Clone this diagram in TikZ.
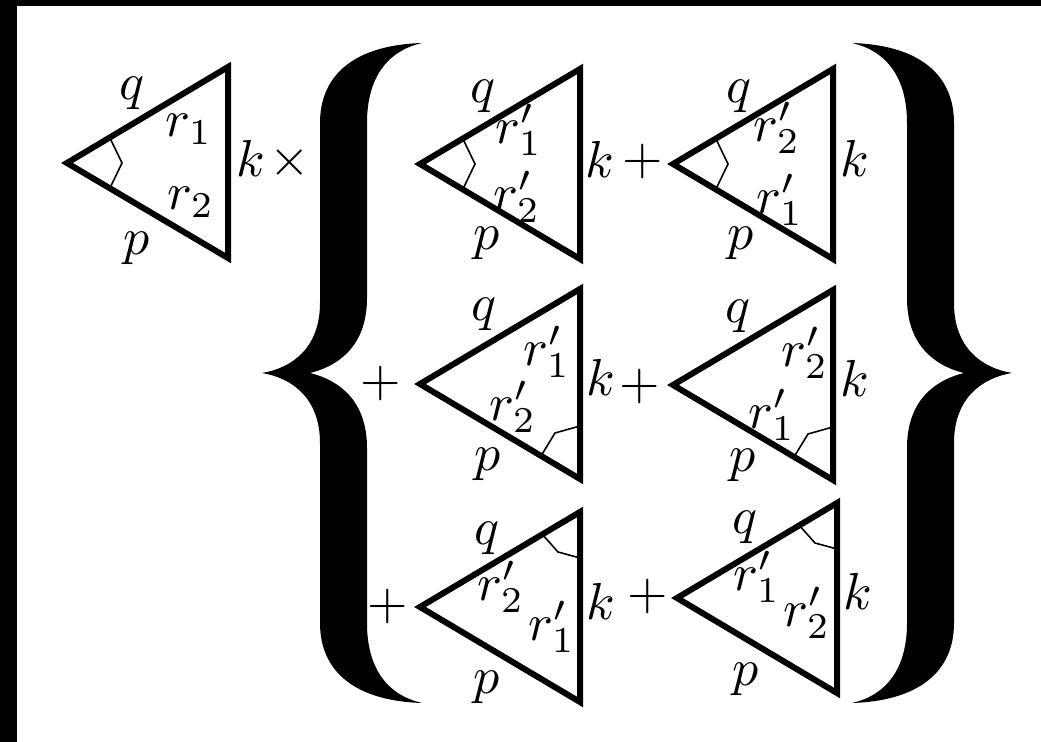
\documentclass[tikz,border=0pt]{standalone}
\newcommand\mytri[2]{\draw[tri] (#1,#2) -- ++(160,-95) -- ++(0,190) -- cycle;}
\newcommand\markL[2]{\draw[amark] (#1,#2) +(43,-25) -- +(55,0) -- +(43,25);}
\newcommand\markBR[2]{\draw[amark] (#1+160,#2+95) +(0,-53) -- +(-25,-46) -- +(-39,-23);}
\newcommand\markTR[2]{\draw[amark] (#1+160,#2-95) +(0,46) -- +(-22,40) -- +(-38,22);}
\newcommand\bracefill[1]{\fill[#1] (160,-330) .. controls (95,-328) and (58,-300) .. (58,-250) -- (58,-70) .. controls (58,-25) and (30,-5) .. (0,0) .. controls (30,5) and (58,25) .. (58,70) -- (58,250) .. controls (58,300) and (95,328) .. (160,330) .. controls (125,322) and (105,295) .. (105,250) -- (105,75) .. controls (105,30) and (80,8) .. (48,0) .. controls (80,-8) and (105,-30) .. (105,-75) -- (105,-250) .. controls (105,-295) and (125,-322) .. (160,-330) -- cycle;}
\begin{document}
\begin{tikzpicture}[x=0.5pt,y=-0.5pt,
  tri/.style={line width=3pt,line join=miter},
  amark/.style={line width=0.8pt},
  lbl/.style={inner sep=0pt,font=\fontsize{10}{12}\selectfont,scale=2.6,transform shape}]
\useasboundingbox (0,0) rectangle (1041,742);
\fill[white] (0,0) rectangle (1041,742);
\fill[black] (0,0) rectangle (1041,6);
\fill[black] (0,0) rectangle (17,742);

% braces
\bracefill{shift={(262,373)}}
\bracefill{shift={(1012,373)},xscale=-1}

% first triangle
\draw[tri] (67,163) -- (228,67) -- (228,258) -- cycle;
\markL{67}{163}
\node[lbl] (q0) at (132,93) {$q$};
\node[lbl] (ra0) at (189,129) {$r_1$};
\node[lbl] (rb0) at (191,202) {$r_2$};
\node[lbl] (p0) at (137,248) {$p$};
\node[lbl] (k0) at (251,158) {$k$};
\node[lbl] (x0) at (290,163) {$\times$};

% row 1
\mytri{420}{164}\markL{420}{164}
\node[lbl] (qA) at (483,96) {$q$};
\node[lbl] (r1A) at (519,130) {$r'_1$};
\node[lbl] (r2A) at (517,197) {$r'_2$};
\node[lbl] (pA) at (487,243) {$p$};
\node[lbl] (kA) at (600,159) {$k$};
\node[lbl] (plA) at (643,162) {$+$};
\mytri{673}{164}\markL{673}{164}
\node[lbl] (qB) at (739,96) {$q$};
\node[lbl] (r2B) at (777,128) {$r'_2$};
\node[lbl] (r1B) at (780,200) {$r'_1$};
\node[lbl] (pB) at (741,243) {$p$};
\node[lbl] (kB) at (855,158) {$k$};

% row 2
\node[lbl] (plC0) at (381,384) {$+$};
\mytri{420}{384}\markBR{420}{384}
\node[lbl] (qC) at (484,314) {$q$};
\node[lbl] (r1C) at (547,352) {$r'_1$};
\node[lbl] (r2C) at (513,407) {$r'_2$};
\node[lbl] (pC) at (488,464) {$p$};
\node[lbl] (kC) at (601,377) {$k$};
\node[lbl] (plC) at (640,387) {$+$};
\mytri{673}{385}\markBR{673}{385}
\node[lbl] (qD) at (738,316) {$q$};
\node[lbl] (r2D) at (805,353) {$r'_2$};
\node[lbl] (r1D) at (772,415) {$r'_1$};
\node[lbl] (pD) at (743,465) {$p$};
\node[lbl] (kD) at (855,378) {$k$};

% row 3
\node[lbl] (plE0) at (388,607) {$+$};
\mytri{420}{607}\markTR{420}{607}
\node[lbl] (qE) at (487,538) {$q$};
\node[lbl] (r2E) at (501,587) {$r'_2$};
\node[lbl] (r1E) at (552,627) {$r'_1$};
\node[lbl] (pE) at (487,687) {$p$};
\node[lbl] (kE) at (601,601) {$k$};
\node[lbl] (plE) at (648,597) {$+$};
\mytri{677}{598}\markTR{677}{598}
\node[lbl] (qF) at (745,527) {$q$};
\node[lbl] (r1F) at (757,577) {$r'_1$};
\node[lbl] (r2F) at (807,613) {$r'_2$};
\node[lbl] (pF) at (746,679) {$p$};
\node[lbl] (kF) at (858,591) {$k$};
\end{tikzpicture}
\end{document}
